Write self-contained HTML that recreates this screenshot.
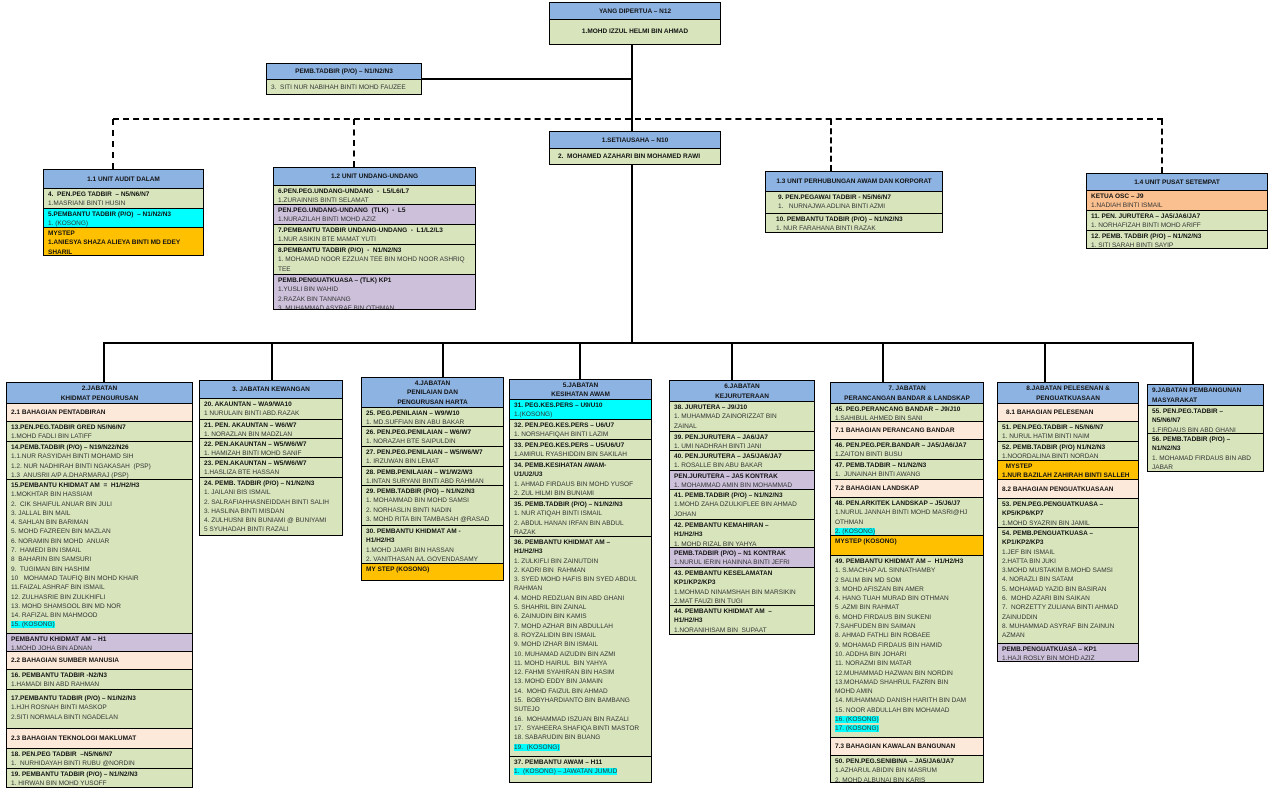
<!DOCTYPE html>
<html><head><meta charset="utf-8">
<style>
*{box-sizing:border-box;margin:0;padding:0}
body{width:1270px;height:791px;background:#fff;position:relative;overflow:hidden;font-family:"Liberation Sans",sans-serif;font-size:6.5px;color:#333}
.b{position:absolute;border:1.5px solid #000;height:auto!important}
.s{border-top:1px solid #000;padding:1px 0 0 4px;overflow:hidden;line-height:9.3px;white-space:nowrap}
.s:first-child{border-top:none}
.h{background:#8db3e2;text-align:center;font-weight:bold;color:#111;padding-left:0;display:flex;flex-direction:column;justify-content:center}
.g{background:#d7e4bc}.p{background:#fde9d9}.c{background:#00ffff}.o{background:#ffc000}.v{background:#ccc0da}.r{background:#fac090}
.s b{color:#111;display:block}
.k{background:#00ffff}
.pe{font-weight:bold;color:#111;display:flex;align-items:center}
.l{position:absolute;background:#000}
.d{position:absolute;border-color:#000;border-style:dashed;border-width:0}
</style></head><body>

<div class="l" style="left:631px;top:45px;width:2px;height:86px"></div>
<div class="l" style="left:421px;top:78px;width:211px;height:2px"></div>
<div class="l" style="left:631px;top:165px;width:2px;height:178px"></div>
<div class="d" style="left:113px;top:118px;width:1050px;height:0;border-top-width:2px;border-top-style:dashed"></div>
<div class="d" style="left:112px;top:119px;height:50px;border-left-width:2px"></div>
<div class="d" style="left:353px;top:119px;height:48px;border-left-width:2px"></div>
<div class="d" style="left:830px;top:119px;height:52px;border-left-width:2px"></div>
<div class="d" style="left:1161px;top:119px;height:54px;border-left-width:2px"></div>
<div class="l" style="left:103px;top:342px;width:1091px;height:2px"></div>
<div class="l" style="left:103px;top:342px;width:2px;height:40px"></div>
<div class="l" style="left:271px;top:342px;width:2px;height:38px"></div>
<div class="l" style="left:442px;top:342px;width:2px;height:35px"></div>
<div class="l" style="left:579px;top:342px;width:2px;height:37px"></div>
<div class="l" style="left:731px;top:342px;width:2px;height:38px"></div>
<div class="l" style="left:882px;top:342px;width:2px;height:40px"></div>
<div class="l" style="left:1044px;top:342px;width:2px;height:40px"></div>
<div class="l" style="left:1192px;top:342px;width:2px;height:42px"></div>

<div class="b" style="left:549px;top:2px;width:172px;height:44px">
<div class="s h" style="height:16px">YANG DIPERTUA – N12</div>
<div class="s g pe" style="height:25px;justify-content:center;padding:0">1.MOHD IZZUL HELMI BIN AHMAD</div></div>
<div class="b" style="left:266px;top:63px;width:156px;height:33px">
<div class="s h" style="height:15px">PEMB.TADBIR (P/O) – N1/N2/N3</div>
<div class="s g" style="height:15px;padding-top:3px">3.&nbsp; SITI NUR NABIHAH BINTI MOHD FAUZEE</div></div>
<div class="b" style="left:549px;top:131px;width:172px;height:35px">
<div class="s h" style="height:16px">1.SETIAUSAHA – N10</div>
<div class="s g pe" style="height:16px;padding-left:8px">2.&nbsp; MOHAMED AZAHARI BIN MOHAMED RAWI</div></div>

<div class="b" style="left:43px;top:169px;width:161px;height:87px">
<div class="s h" style="height:18px">1.1 UNIT AUDIT DALAM</div>
<div class="s g" style="height:20px"><b>4.&nbsp; PEN.PEG TADBIR&nbsp; – N5/N6/N7</b>1.MASRIANI BINTI HUSIN</div>
<div class="s c" style="height:19px"><b>5.PEMBANTU TADBIR (P/O)&nbsp; – N1/N2/N3</b>1. (KOSONG)</div>
<div class="s o" style="height:28px;color:#111"><b>MYSTEP</b><b>1.ANIESYA SHAZA ALIEYA BINTI MD EDEY</b><b>SHARIL</b></div></div>

<div class="b" style="left:273px;top:167px;width:203px;height:144px">
<div class="s h" style="height:17px">1.2 UNIT UNDANG-UNDANG</div>
<div class="s g" style="height:19px"><b>6.PEN.PEG.UNDANG-UNDANG&nbsp; -&nbsp; L5/L6/L7</b>1.ZURAINNIS BINTI SELAMAT</div>
<div class="s v" style="height:20px"><b>PEN.PEG.UNDANG-UNDANG&nbsp; (TLK)&nbsp; -&nbsp; L5</b>1.NURAZILAH BINTI MOHD AZIZ</div>
<div class="s g" style="height:20px"><b>7.PEMBANTU TADBIR UNDANG-UNDANG&nbsp; -&nbsp; L1/L2/L3</b>1.NUR ASIKIN BTE MAMAT YUTI</div>
<div class="s g" style="height:30px"><b>8.PEMBANTU TADBIR (P/O)&nbsp; -&nbsp; N1/N2/N3</b>1. MOHAMAD NOOR EZZUAN TEE BIN MOHD NOOR ASHRIQ<br>TEE</div>
<div class="s v" style="height:35px"><b>PEMB.PENGUATKUASA – (TLK) KP1</b>1.YUSLI BIN WAHID<br>2.RAZAK BIN TANNANG<br>3. MUHAMMAD ASYRAF BIN OTHMAN</div></div>

<div class="b" style="left:765px;top:171px;width:178px;height:62px">
<div class="s h" style="height:19px">1.3 UNIT PERHUBUNGAN AWAM DAN KORPORAT</div>
<div class="s g" style="height:22px;padding-left:12px"><b>9. PEN.PEGAWAI TADBIR - N5/N6/N7</b>1.&nbsp;&nbsp; NURNAJWA ADLINA BINTI AZMI</div>
<div class="s g" style="height:19px;padding-left:10px"><b>10. PEMBANTU TADBIR (P/O) – N1/N2/N3</b>1. NUR FARAHANA BINTI RAZAK</div></div>

<div class="b" style="left:1086px;top:173px;width:182px;height:76px">
<div class="s h" style="height:16px">1.4 UNIT PUSAT SETEMPAT</div>
<div class="s r" style="height:20px"><b>KETUA OSC – J9</b>1.NADIAH BINTI ISMAIL</div>
<div class="s g" style="height:20px"><b>11. PEN. JURUTERA – JA5/JA6/JA7</b>1. NORHAFIZAH BINTI MOHD ARIFF</div>
<div class="s g" style="height:18px"><b>12. PEMB. TADBIR (P/O) – N1/N2/N3</b>1. SITI SARAH BINTI SAYIP</div></div>

<div class="b" style="left:6px;top:382px;width:187px;height:406px">
<div class="s h" style="height:20px"><div>2.JABATAN</div><div>KHIDMAT PENGURUSAN</div></div>
<div class="s p pe" style="height:18px">2.1 BAHAGIAN PENTADBIRAN</div>
<div class="s g" style="height:20px"><b>13.PEN.PEG.TADBIR GRED N5/N6/N7</b>1.MOHD FADLI BIN LATIFF</div>
<div class="s g" style="height:38px"><b>14.PEMB.TADBIR (P/O) – N19/N22/N26</b>1.1.NUR RASYIDAH BINTI MOHAMD SIH<br>1.2. NUR NADHIRAH BINTI NGAKASAH&nbsp; (PSP)<br>1.3&nbsp; ANUSRII A/P A.DHARMARAJ (PSP)</div>
<div class="s g" style="height:154px"><b>15.PEMBANTU KHIDMAT AM&nbsp; =&nbsp; H1/H2/H3</b>1.MOKHTAR BIN HASSIAM<br>2.&nbsp; CIK SHAIFUL ANUAR BIN JULI<br>3. JALLAL BIN MAIL<br>4. SAHLAN BIN BARIMAN<br>5. MOHD FAZREEN BIN MAZLAN<br>6. NORAMIN BIN MOHD&nbsp; ANUAR<br>7.&nbsp; HAMEDI BIN ISMAIL<br>8&nbsp; BAHARIN BIN SAMSURI<br>9.&nbsp; TUGIMAN BIN HASHIM<br>10&nbsp;&nbsp; MOHAMAD TAUFIQ BIN MOHD KHAIR<br>11.FAIZAL ASHRAF BIN ISMAIL<br>12. ZULHASRIE BIN ZULKHIFLI<br>13. MOHD SHAMSOOL BIN MD NOR<br>14. RAFIZAL BIN MAHMOOD<br><span class="k">15. (KOSONG)</span></div>
<div class="s v" style="height:18px"><b>PEMBANTU KHIDMAT AM – H1</b>1.MOHD JOHA BIN ADNAN</div>
<div class="s p pe" style="height:18px">2.2 BAHAGIAN SUMBER MANUSIA</div>
<div class="s g" style="height:20px"><b>16. PEMBANTU TADBIR -N2/N3</b>1.HAMADI BIN ABD RAHMAN</div>
<div class="s g" style="height:39px;padding-top:4px"><b>17.PEMBANTU TADBIR (P/O) – N1/N2/N3</b>1.HJH ROSNAH BINTI MASKOP<br>2.SITI NORMALA BINTI NGADELAN</div>
<div class="s p pe" style="height:20px">2.3 BAHAGIAN TEKNOLOGI MAKLUMAT</div>
<div class="s g" style="height:20px"><b>18. PEN.PEG TADBIR&nbsp; –N5/N6/N7</b>1.&nbsp; NURHIDAYAH BINTI RUBU @NORDIN</div>
<div class="s g" style="height:19px"><b>19. PEMBANTU TADBIR (P/O) – N1/N2/N3</b>1. HIRWAN BIN MOHD YUSOFF</div></div>

<div class="b" style="left:199px;top:380px;width:144px;height:154px">
<div class="s h" style="height:17px">3. JABATAN KEWANGAN</div>
<div class="s g" style="height:21px"><b>20. AKAUNTAN – WA9/WA10</b>1 NURULAIN BINTI ABD.RAZAK</div>
<div class="s g" style="height:19px"><b>21. PEN. AKAUNTAN – W6/W7</b>1. NORAZLAN BIN MADZLAN</div>
<div class="s g" style="height:19px"><b>22. PEN.AKAUNTAN – W5/W6/W7</b>1. HAMIZAH BINTI MOHD SANIF</div>
<div class="s g" style="height:20px"><b>23. PEN.AKAUNTAN – W5/W6/W7</b>1.HASLIZA BTE HASSAN</div>
<div class="s g" style="height:58px"><b>24. PEMB. TADBIR (P/O) – N1/N2/N3</b>1. JAILANI BIS ISMAIL<br>2. SALRAFIAHHASNEIDDAH BINTI SALIH<br>3. HASLINA BINTI MISDAN<br>4. ZULHUSNI BIN BUNIAMI @ BUNIYAMI<br>5 SYUHADAH BINTI RAZALI</div></div>

<div class="b" style="left:361px;top:377px;width:143px;height:203px">
<div class="s h" style="height:29px"><div>4.JABATAN</div><div>PENILAIAN DAN</div><div>PENGURUSAN HARTA</div></div>
<div class="s g" style="height:19px"><b>25. PEG.PENILAIAN – W9/W10</b>1. MD.SUFFIAN BIN ABU BAKAR</div>
<div class="s g" style="height:20px"><b>26. PEN.PEG.PENILAIAN – W6/W7</b>1. NORAZAH BTE SAIPULDIN</div>
<div class="s g" style="height:20px"><b>27. PEN.PEG.PENILAIAN – W5/W6/W7</b>1. IRZUWAN BIN LEMAT</div>
<div class="s g" style="height:19px"><b>28. PEMB.PENILAIAN – W1/W2/W3</b>1.INTAN SURYANI BINTI ABD RAHMAN</div>
<div class="s g" style="height:40px"><b>29. PEMB.TADBIR (P/O) – N1/N2/N3</b>1. MOHAMMAD BIN MOHD SAMSI<br>2. NORHASLIN BINTI NADIN<br>3. MOHD RITA BIN TAMBASAH @RASAD</div>
<div class="s g" style="height:38px"><b>30. PEMBANTU KHIDMAT AM -</b><b>H1/H2/H3</b>1.MOHD JAMRI BIN HASSAN<br>2. VANITHASAN A/L GOVENDASAMY</div>
<div class="s o" style="height:17px"><b>MY STEP (KOSONG)</b></div></div>

<div class="b" style="left:509px;top:379px;width:143px;height:405px">
<div class="s h" style="height:19px"><div>5.JABATAN</div><div>KESIHATAN AWAM</div></div>
<div class="s c" style="height:20px"><b>31. PEG.KES.PERS – U9/U10</b>1.(KOSONG)</div>
<div class="s g" style="height:20px"><b>32. PEN.PEG.KES.PERS – U6/U7</b>1. NORSHAFIQAH BINTI LAZIM</div>
<div class="s g" style="height:20px"><b>33. PEN.PEG.KES.PERS – U5/U6/U7</b>1.AMIRUL RYASHIDDIN BIN SAKILAH</div>
<div class="s g" style="height:39px"><b>34. PEMB.KESIHATAN AWAM-</b><b>U1/U2/U3</b>1. AHMAD FIRDAUS BIN MOHD YUSOF<br>2. ZUL HILMI BIN BUNIAMI</div>
<div class="s g" style="height:38px"><b>35. PEMB.TADBIR (P/O) – N1/N2/N3</b>1. NUR ATIQAH BINTI ISMAIL<br>2. ABDUL HANAN IRFAN BIN ABDUL<br>RAZAK</div>
<div class="s g" style="height:220px"><b>36. PEMBANTU KHIDMAT AM –</b><b>H1/H2/H3</b>1. ZULKIFLI BIN ZAINUTDIN<br>2. KADRI BIN&nbsp; RAHMAN<br>3. SYED MOHD HAFIS BIN SYED ABDUL<br>RAHMAN<br>4. MOHD REDZUAN BIN ABD GHANI<br>5. SHAHRIL BIN ZAINAL<br>6. ZAINUDIN BIN KAMIS<br>7. MOHD AZHAR BIN ABDULLAH<br>8. ROYZALIDIN BIN ISMAIL<br>9. MOHD IZHAR BIN ISMAIL<br>10. MUHAMAD AIZUDIN BIN AZMI<br>11. MOHD HAIRUL&nbsp; BIN YAHYA<br>12. FAHMI SYAHIRAN BIN HASIM<br>13. MOHD EDDY BIN JAMAIN<br>14.&nbsp; MOHD FAIZUL BIN AHMAD<br>15.&nbsp; BOBYHARDIANTO BIN BAMBANG<br>SUTEJO<br>16.&nbsp; MOHAMMAD ISZUAN BIN RAZALI<br>17.&nbsp; SYAHEERA SHAFIQA BINTI MASTOR<br>18. SABARUDIN BIN BUANG<br><span class="k">19.&nbsp; (KOSONG)</span></div>
<div class="s g" style="height:26px"><b>37. PEMBANTU AWAM – H11</b><span class="k">1.&nbsp; (KOSONG) – JAWATAN JUMUD</span></div></div>

<div class="b" style="left:669px;top:380px;width:146px;height:254px">
<div class="s h" style="height:20px"><div>6.JABATAN</div><div>KEJURUTERAAN</div></div>
<div class="s g" style="height:30px"><b>38. JURUTERA – J9/J10</b>1. MUHAMMAD ZAINORIZZAT BIN<br>ZAINAL</div>
<div class="s g" style="height:19px"><b>39. PEN.JURUTERA – JA6/JA7</b>1. UMI NADHRAH BINTI JANI</div>
<div class="s g" style="height:20px"><b>40. PEN.JURUTERA – JA5/JA6/JA7</b>1. ROSALLE BIN ABU BAKAR</div>
<div class="s v" style="height:19px"><b>PEN.JURUTERA – JA5 KONTRAK</b>1. MOHAMMAD AMIN BIN MOHAMMAD</div>
<div class="s g" style="height:30px"><b>41. PEMB.TADBIR (P/O) – N1/N2/N3</b>1.MOHD ZAHA DZULKIFLEE BIN AHMAD<br>JOHAN</div>
<div class="s g" style="height:28px"><b>42. PEMBANTU KEMAHIRAN –</b><b>H1/H2/H3</b>1. MOHD RIZAL BIN YAHYA</div>
<div class="s v" style="height:20px"><b>PEMB.TADBIR (P/O) – N1 KONTRAK</b>1.NURUL IERIN HANINNA BINTI JEFRI</div>
<div class="s g" style="height:38px"><b>43. PEMBANTU KESELAMATAN</b><b>KP1/KP2/KP3</b>1.MOHMAD NINAMSHAH BIN MARSIKIN<br>2.MAT FAUZI BIN TUGI</div>
<div class="s g" style="height:29px"><b>44. PEMBANTU KHIDMAT AM&nbsp; –</b><b>H1/H2/H3</b>1.NORANIHISAM BIN&nbsp; SUPAAT</div></div>

<div class="b" style="left:830px;top:382px;width:154px;height:401px">
<div class="s h" style="height:20px"><div>7. JABATAN</div><div>PERANCANGAN BANDAR &amp; LANDSKAP</div></div>
<div class="s g" style="height:18px"><b>45. PEG.PERANCANG BANDAR – J9/J10</b>1.SAHIBUL AHMED BIN SANI</div>
<div class="s p pe" style="height:18px">7.1 BAHAGIAN PERANCANG BANDAR</div>
<div class="s g" style="height:20px"><b>46. PEN.PEG.PER.BANDAR – JA5/JA6/JA7</b>1.ZAITON BINTI BUSU</div>
<div class="s g" style="height:20px"><b>47. PEMB.TADBIR – N1/N2/N3</b>1.&nbsp; JUNAINAH BINTI AWANG</div>
<div class="s p pe" style="height:18px">7.2 BAHAGIAN LANDSKAP</div>
<div class="s g" style="height:38px"><b>48. PEN.ARKITEK LANDSKAP – J5/J6/J7</b>1.NURUL JANNAH BINTI MOHD MASRI@HJ<br>OTHMAN<br><span class="k">2. (KOSONG)</span></div>
<div class="s o" style="height:20px"><b>MYSTEP (KOSONG)</b></div>
<div class="s g" style="height:182px"><b>49. PEMBANTU KHIDMAT AM –&nbsp; H1/H2/H3</b>1. S.MACHAP A/L SINNATHAMBY<br>2 SALIM BIN MD SOM<br>3. MOHD AFISZAN BIN AMER<br>4. HANG TUAH MURAD BIN OTHMAN<br>5 .AZMI BIN RAHMAT<br>6. MOHD FIRDAUS BIN SUKENI<br>7.SAHFUDEN BIN SAIMAN<br>8. AHMAD FATHLI BIN ROBAEE<br>9. MOHAMAD FIRDAUS BIN HAMID<br>10. ADDHA BIN JOHARI<br>11. NORAZMI BIN MATAR<br>12.MUHAMMAD HAZWAN BIN NORDIN<br>13.MOHAMAD SHAHRUL FAZRIN BIN<br>MOHD AMIN<br>14. MUHAMMAD DANISH HARITH BIN DAM<br>15. NOOR ABDULLAH BIN MOHAMAD<br><span class="k">16. (KOSONG)</span><br><span class="k">17. (KOSONG)</span></div>
<div class="s p pe" style="height:18px">7.3 BAHAGIAN KAWALAN BANGUNAN</div>
<div class="s g" style="height:27px"><b>50. PEN.PEG.SENIBINA – JA5/JA6/JA7</b>1.AZHARUL ABIDIN BIN MASRUM<br>2. MOHD ALBUNAI BIN KARIS</div></div>

<div class="b" style="left:997px;top:382px;width:142px;height:279px">
<div class="s h" style="height:20px"><div>8.JABATAN PELESENAN &amp;</div><div>PENGUATKUASAAN</div></div>
<div class="s p pe" style="height:18px;padding-left:8px">8.1 BAHAGIAN PELESENAN</div>
<div class="s g" style="height:20px"><b>51. PEN.PEG.TADBIR – N5/N6/N7</b>1. NURUL HATIM BINTI NAIM</div>
<div class="s g" style="height:19px"><b>52. PEMB.TADBIR (P/O) N1/N2/N3</b>1.NOORDALINA BINTI NORDAN</div>
<div class="s o" style="height:19px;color:#111"><b>&nbsp; MYSTEP</b><b>1.NUR BAZILAH ZAHIRAH BINTI SALLEH</b></div>
<div class="s p pe" style="height:19px">8.2 BAHAGIAN PENGUATKUASAAN</div>
<div class="s g" style="height:29px"><b>53. PEN.PEG.PENGUATKUASA –</b><b>KP5/KP6/KP7</b>1.MOHD SYAZRIN BIN JAMIL</div>
<div class="s g" style="height:116px"><b>54. PEMB.PENGUATKUASA –</b><b>KP1/KP2/KP3</b>1.JEF BIN ISMAIL<br>2.HATTA BIN JUKI<br>3.MOHD MUSTAKIM B.MOHD SAMSI<br>4. NORAZLI BIN SATAM<br>5. MOHAMAD YAZID BIN BASIRAN<br>6.&nbsp; MOHD AZARI BIN SAIKAN<br>7.&nbsp; NORZETTY ZULIANA BINTI AHMAD<br>ZAINUDDIN<br>8. MUHAMMAD ASYRAF BIN ZAINUN<br>AZMAN</div>
<div class="s v" style="height:18px"><b>PEMB.PENGUATKUASA – KP1</b>1.HAJI ROSLY BIN MOHD AZIZ</div></div>

<div class="b" style="left:1147px;top:384px;width:117px;height:87px">
<div class="s h" style="height:20px;text-align:left;padding-left:4px"><div>9.JABATAN PEMBANGUNAN</div><div>MASYARAKAT</div></div>
<div class="s g" style="height:28px"><b>55. PEN.PEG.TADBIR –</b><b>N5/N6/N7</b>1.FIRDAUS BIN ABD GHANI</div>
<div class="s g" style="height:38px"><b>56. PEMB.TADBIR (P/O) –</b><b>N1/N2/N3</b>1. MOHAMAD FIRDAUS BIN ABD<br>JABAR</div></div>

</body></html>
